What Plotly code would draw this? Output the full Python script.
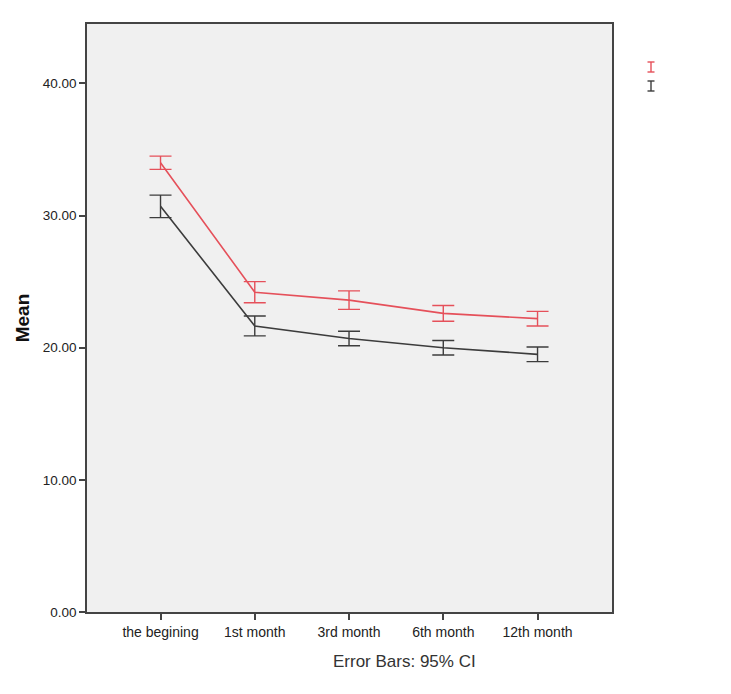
import plotly.graph_objects as go

categories = ["the begining", "1st month", "3rd month", "6th month", "12th month"]
red_mean = [34.0, 24.2, 23.6, 22.6, 22.2]
red_ci = [0.5, 0.8, 0.7, 0.6, 0.55]
grey_mean = [30.7, 21.65, 20.7, 20.0, 19.5]
grey_ci = [0.85, 0.75, 0.55, 0.55, 0.55]
y_ticks = [0, 10, 20, 30, 40]

RED = "#e5505a"
GREY = "#3c3c3c"
xs = list(range(len(categories)))

# page has an 8px body margin; plot area targeted at x 87..612, y 24..612
OFF = 8
L, R, T, B = 87 - OFF, 119, 24 - OFF, 82
W, H = 731 - OFF, 694 - OFF
PW, PH = W - L - R, H - T - B

fig = go.Figure()
for mean, ci, col in [(red_mean, red_ci, RED), (grey_mean, grey_ci, GREY)]:
    fig.add_trace(go.Scatter(
        x=xs, y=mean, mode="lines",
        line=dict(color=col, width=1.6),
        error_y=dict(type="data", array=ci, visible=True, color=col, thickness=1.4, width=11),
        showlegend=False,
    ))

def px(x):
    return (x - 87) / PW

def py(y):
    return (612 - y) / PH

fig.update_layout(
    width=W, height=H,
    margin=dict(l=L, r=R, t=T, b=B),
    paper_bgcolor="white",
    plot_bgcolor="#f0f0f0",
    font=dict(family="Liberation Sans, Arial, sans-serif", size=12, color="#222"),
    xaxis=dict(
        range=[-0.78, 4.79],
        tickmode="array", tickvals=xs, ticktext=categories,
        showgrid=False, zeroline=False,
        ticks="outside", ticklen=6, tickcolor="#444", tickwidth=1.5,
        showline=True, linecolor="#444", linewidth=1.5, mirror=True,
        tickfont=dict(size=14),
    ),
    yaxis=dict(
        range=[0, 44.5],
        tickmode="array", tickvals=y_ticks, ticktext=[f"{v:.2f}" for v in y_ticks],
        showgrid=False, zeroline=False,
        ticks="outside", ticklen=6, tickcolor="#444", tickwidth=1.5,
        showline=True, linecolor="#444", linewidth=1.5, mirror=True,
        tickfont=dict(size=13.5),
        title=dict(text="<b>Mean</b>", font=dict(size=19, color="#111"), standoff=8),
    ),
    annotations=[dict(
        text="Error Bars: 95% CI", xref="paper", yref="paper",
        x=px(404), y=py(661), xanchor="center", yanchor="middle",
        showarrow=False, font=dict(size=17, color="#333"),
    )],
)

shapes = []
for ypix, col in [(67, RED), (86, GREY)]:
    x0 = 651
    top, bot = ypix - 5, ypix + 5
    shapes.append(dict(type="line", xref="paper", yref="paper",
                       x0=px(x0), x1=px(x0), y0=py(top), y1=py(bot),
                       line=dict(color=col, width=1.4)))
    for yy in (top, bot):
        shapes.append(dict(type="line", xref="paper", yref="paper",
                           x0=px(x0 - 3.5), x1=px(x0 + 3.5), y0=py(yy), y1=py(yy),
                           line=dict(color=col, width=1.4)))
fig.update_layout(shapes=shapes)

fig.write_html("out.html")
